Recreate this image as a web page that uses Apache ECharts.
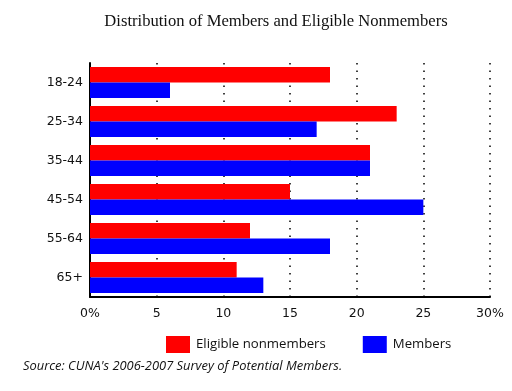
<!DOCTYPE html>
<html><head><meta charset="utf-8">
<script src="https://cdn.jsdelivr.net/npm/echarts@6/dist/echarts.min.js"></script>
<style>html,body{margin:0;padding:0;background:#fff}#c{width:512px;height:391px}</style>
</head><body><div id="c"></div>
<script>
const categories = ['18-24','25-34','35-44','45-54','55-64','65+'];
const nonmembers = [18, 23, 21, 15, 12, 11];
const members = [6, 17, 21, 25, 18, 13];
const xTickLabels = {0:'0%',5:'5',10:'10',15:'15',20:'20',25:'25',30:'30%'};

const chart = echarts.init(document.getElementById('c'));
chart.setOption({
  animation: false,
  backgroundColor: '#fff',
  title: [{
    text: 'Distribution of Members and Eligible Nonmembers',
    left: 271, top: 8, textAlign: 'center',
    textStyle: {fontFamily: 'Liberation Serif, DejaVu Serif, serif', fontSize: 16.6, fontWeight: 'normal', color: '#111'}
  },{
    text: "Source: CUNA's 2006-2007 Survey of Potential Members.",
    left: 18, top: 355,
    textStyle: {fontFamily: 'Open Sans, Noto Sans, sans-serif', fontSize: 12.9, fontStyle: 'italic', fontWeight: 'normal', color: '#111'}
  }],
  legend: {
    left: 161, top: 331, itemWidth: 24, itemHeight: 17, itemGap: 37,
    icon: 'rect',
    textStyle: {fontFamily: 'Open Sans, Noto Sans, sans-serif', fontSize: 13.2, color: '#111', padding: [0,0,0,1]},
    data: ['Eligible nonmembers', 'Members']
  },
  grid: {left: 90, right: 22, top: 63, bottom: 94},
  xAxis: {
    type: 'value', min: 0, max: 30, interval: 5,
    axisLine: {show: true, lineStyle: {color: '#000', width: 2}},
    axisTick: {show: false},
    axisLabel: {color: '#111', fontSize: 12.5, fontFamily: 'DejaVu Sans, sans-serif', margin: 10,
      formatter: v => xTickLabels[v]},
    splitLine: {show: true, lineStyle: {color: '#000', width: 1.5, type: [1.5, 6]}}
  },
  yAxis: {
    type: 'category', data: categories, inverse: true,
    axisLine: {show: true, lineStyle: {color: '#000', width: 2}},
    axisTick: {show: false},
    axisLabel: {color: '#111', fontSize: 12.5, fontFamily: 'DejaVu Sans, sans-serif', margin: 7}
  },
  series: [
    {name: 'Eligible nonmembers', type: 'bar', data: nonmembers, itemStyle: {color: '#ff0000'}, barGap: '0%', barCategoryGap: '20%'},
    {name: 'Members', type: 'bar', data: members, itemStyle: {color: '#0000ff'}, barGap: '0%', barCategoryGap: '20%'}
  ]
});
</script></body></html>
